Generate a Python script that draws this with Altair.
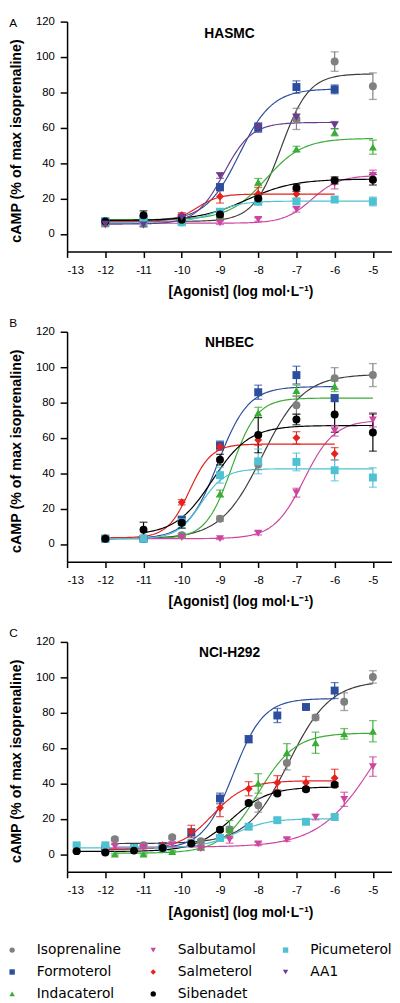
import numpy as np
import pandas as pd
import altair as alt

# ---------------- categories / style lookups ----------------
SERIES = ["Isoprenaline", "Formoterol", "Indacaterol", "Salbutamol",
          "Salmeterol", "Sibenadet", "Picumeterol", "AA1"]
# legend is filled row-wise in 3 columns
LEGEND_ORDER = ["Isoprenaline", "Salbutamol", "Picumeterol",
                "Formoterol", "Salmeterol", "AA1",
                "Indacaterol", "Sibenadet"]
MARKER_COLORS = {"Isoprenaline": "#808080", "Formoterol": "#2d4e9e",
                 "Indacaterol": "#3aad37", "Salbutamol": "#cc459f",
                 "Salmeterol": "#e5221e", "Sibenadet": "#000000",
                 "Picumeterol": "#4ec2d2", "AA1": "#6a3b8f"}
CURVE_COLORS = {"Isoprenaline": "#3c3c3c", "Formoterol": "#2d4e9e",
                "Indacaterol": "#3aad37", "Salbutamol": "#cc459f",
                "Salmeterol": "#e5221e", "Sibenadet": "#000000",
                "Picumeterol": "#4ec2d2", "AA1": "#6a3b8f"}
SHAPES = {"Isoprenaline": "circle", "Formoterol": "square",
          "Indacaterol": "triangle-up", "Salbutamol": "triangle-down",
          "Salmeterol": "diamond", "Sibenadet": "circle",
          "Picumeterol": "square", "AA1": "triangle-down"}
SIZES = {"Isoprenaline": 65, "Formoterol": 58, "Indacaterol": 65,
         "Salbutamol": 65, "Salmeterol": 50, "Sibenadet": 85,
         "Picumeterol": 60, "AA1": 70}

X_TICKS = [-13, -12, -11, -10, -9, -8, -7, -6, -5]
Y_TICKS = [0, 20, 40, 60, 80, 100, 120]

# ---------------- Panel A: HASMC ----------------
XA8 = [-12, -11, -10, -9, -8, -7, -6, -5]
XA7 = [-12, -11, -10, -9, -8, -7, -6]
XA6 = [-12, -11, -10, -9, -8, -7]
A_ISO = [7, 7.5, 6.5, 9, 20, 65, 97.4, 83.5]
A_ISO_E = [1, 1, 1, 1.5, 2, 6, 5.5, 7.5]
A_FORM = [7, 8, 9, 26.4, 60.2, 83, 81.7]
A_FORM_E = [1.5, 2, 1.5, 2, 2.5, 3.5, 2.5]
A_INDA = [6, 6, 7, 10, 29.3, 48, 57.4, 49]
A_INDA_E = [1, 1, 1, 1.5, 2, 1.5, 2, 4]
A_SALB = [5, 5, 6.5, 6.3, 8.1, 13.8, 28.4, 33]
A_SALB_E = [1, 1, 1, 1, 1, 1.5, 3, 3]
A_SALM = [6, 7, 10.5, 21.1, 22.7, 22.5]
A_SALM_E = [1, 1, 1.5, 3.7, 3.5, 2.5]
A_SIBE = [7, 10.5, 8, 11, 20, 26, 30.2, 30.6]
A_SIBE_E = [1, 2.5, 1, 1.5, 2, 2, 2, 3]
A_PICU = [7, 7, 6.5, 12.5, 18.1, 18.3, 19.4, 18.3]
A_PICU_E = [1, 1, 1, 1.5, 1.5, 1.5, 1.5, 2.5]
A_AA1 = [5.5, 5, 9.5, 32.9, 60, 65.8, 61.5]
A_AA1_E = [1, 1, 1, 1.5, 2.5, 2, 2]
# fit: bottom, top, logEC50, hill slope, first x, last x
FIT_A = {"Isoprenaline": [7, 90.5, -7.4, 1.2, -12, -5],
         "Formoterol": [7.5, 82, -8.5, 1.0, -12, -6],
         "Indacaterol": [8, 54, -7.8, 0.9, -12, -5],
         "Salbutamol": [6, 33, -6.6, 1.2, -12, -5],
         "Salmeterol": [7, 22.5, -9.6, 1.5, -12, -6],
         "Sibenadet": [7.5, 31, -8.3, 0.7, -12, -5],
         "Picumeterol": [6.5, 18.5, -9.1, 1.2, -12, -5],
         "AA1": [5.5, 63, -8.9, 1.2, -12, -6]}

# ---------------- Panel B: NHBEC ----------------
XB8 = [-12, -11, -10, -9, -8, -7, -6, -5]
XB7 = [-12, -11, -10, -9, -8, -7, -6]
B_ISO = [3, 3, 5, 14.3, 45, 78.4, 93.7, 95.5]
B_ISO_E = [0.5, 0.5, 1, 1.5, 3, 5, 6, 6.5]
B_FORM = [3, 3, 13.6, 55.7, 85.8, 95.5, 82.5]
B_FORM_E = [1, 1, 2, 2.5, 4, 5, 2]
B_INDA = [3, 3, 5, 28.5, 74.3, 86.8, 89.2]
B_INDA_E = [0.5, 0.5, 1, 2, 3, 3, 3]
B_SALB = [3, 3, 3.7, 3, 6.1, 29, 64, 70.2]
B_SALB_E = [0.5, 0.5, 0.5, 0.5, 1, 2.5, 3, 4]
B_SALM = [3.5, 3.5, 23.6, 55, 58.8, 60, 51]
B_SALM_E = [0.5, 0.5, 1.5, 2, 3, 3.5, 3.5]
B_SIBE = [3, 8, 12, 47.7, 61.6, 70.4, 73.2, 63]
B_SIBE_E = [0.5, 4.3, 3, 3, 10, 3, 10, 10.5]
B_PICU = [3, 3, 12.3, 38.9, 46.7, 46.4, 41.7, 37.6]
B_PICU_E = [0.5, 0.5, 3.5, 4.5, 7, 5, 6, 5.5]
FIT_B = {"Isoprenaline": [3, 96, -7.9, 0.8, -12, -5],
         "Formoterol": [3, 89, -9.05, 1.1, -12, -6],
         "Indacaterol": [3, 82.5, -8.7, 1.3, -12, -5],
         "Salbutamol": [3, 70, -6.8, 1.1, -12, -5],
         "Salmeterol": [3.5, 56.5, -9.8, 1.5, -12, -6],
         "Sibenadet": [5, 67, -9.2, 0.9, -11, -5],
         "Picumeterol": [3, 42.5, -9.5, 1.4, -12, -5]}

# ---------------- Panel C: NCI-H292 ----------------
XC_1 = [-11.75, -11, -10.25, -9.5, -8.75, -8, -7.25, -6.5, -5.75, -5]
XC_2 = [-12, -11.25, -10.5, -9.75, -9, -8.25, -7.5, -6.75, -6]
XC_3 = [-12.75, -12, -11.25, -10.5, -9.75, -9, -8.25, -7.5, -6.75, -6]
C_ISO = [8.4, 5, 9.5, 7.3, 14, 27.7, 51.6, 77.3, 86.2, 100.2]
C_ISO_E = [1, 1, 1, 1, 1.5, 4, 4, 1.5, 5, 3.5]
C_INDA = [0, 0, 1.5, 4, 14, 40, 57.5, 63, 68, 69.5]
C_INDA_E = [0.5, 0.5, 0.5, 1, 5, 5.5, 5, 6, 3, 6]
C_SALB = [4.4, 3.9, 5.4, 3.1, 8.2, 5.8, 8.2, 20.9, 31, 49.5]
C_SALB_E = [1, 1, 1, 1, 2, 1, 1, 1.5, 4, 5.5]
C_FORM = [3, 3.5, 4.5, 12.3, 31.5, 65, 78.4, 83.2, 92.5]
C_FORM_E = [0.5, 0.5, 0.5, 2, 3, 2, 4, 1, 4.5]
C_SALM = [2.5, 3, 5, 12.8, 26.2, 37, 40.4, 40.4, 43]
C_SALM_E = [0.5, 0.5, 1, 3.5, 5, 4, 4, 3.5, 5]
C_SIBE = [1.7, 0.9, 2, 3.5, 6, 13.8, 28.9, 34.3, 36.7, 39.3]
C_SIBE_E = [0.5, 0.5, 0.5, 0.5, 1, 1, 1, 1, 1, 1]
C_PICU = [5, 5, 3.5, 3.5, 6.3, 9.1, 15.5, 19.2, 18.3, 21]
C_PICU_E = [0.5, 0.5, 0.5, 0.5, 1, 1, 1, 1, 1, 1]
FIT_C = {"Isoprenaline": [6, 98, -7.2, 0.8, -11.75, -5],
         "Formoterol": [3, 88, -8.65, 1.1, -12, -6],
         "Indacaterol": [0.5, 68.5, -8.0, 0.9, -11.75, -5],
         "Salbutamol": [4, 100, -4.95, 0.6, -11.75, -5],
         "Salmeterol": [2.5, 41.5, -9.2, 1.0, -12, -6],
         "Sibenadet": [1.5, 38, -8.7, 0.9, -12.75, -6],
         "Picumeterol": [3.5, 20, -8.6, 1.0, -12.75, -6]}

POINT_SETS = [
    ("A", "Isoprenaline", XA8, A_ISO, A_ISO_E),
    ("A", "Formoterol", XA7, A_FORM, A_FORM_E),
    ("A", "Indacaterol", XA8, A_INDA, A_INDA_E),
    ("A", "Salbutamol", XA8, A_SALB, A_SALB_E),
    ("A", "Salmeterol", XA6, A_SALM, A_SALM_E),
    ("A", "Picumeterol", XA8, A_PICU, A_PICU_E),
    ("A", "Sibenadet", XA8, A_SIBE, A_SIBE_E),
    ("A", "AA1", XA7, A_AA1, A_AA1_E),
    ("B", "Isoprenaline", XB8, B_ISO, B_ISO_E),
    ("B", "Formoterol", XB7, B_FORM, B_FORM_E),
    ("B", "Indacaterol", XB7, B_INDA, B_INDA_E),
    ("B", "Salbutamol", XB8, B_SALB, B_SALB_E),
    ("B", "Salmeterol", XB7, B_SALM, B_SALM_E),
    ("B", "Picumeterol", XB8, B_PICU, B_PICU_E),
    ("B", "Sibenadet", XB8, B_SIBE, B_SIBE_E),
    ("C", "Isoprenaline", XC_1, C_ISO, C_ISO_E),
    ("C", "Indacaterol", XC_1, C_INDA, C_INDA_E),
    ("C", "Salbutamol", XC_1, C_SALB, C_SALB_E),
    ("C", "Formoterol", XC_2, C_FORM, C_FORM_E),
    ("C", "Salmeterol", XC_2, C_SALM, C_SALM_E),
    ("C", "Picumeterol", XC_3, C_PICU, C_PICU_E),
    ("C", "Sibenadet", XC_3, C_SIBE, C_SIBE_E),
]
FITS = {"A": FIT_A, "B": FIT_B, "C": FIT_C}

rows = []
for panel, s, xs, ys, es in POINT_SETS:
    for x, y, e in zip(xs, ys, es):
        rows.append({"panel": panel, "series": s, "x": x, "y": y,
                     "lo": y - e, "hi": y + e})
points = pd.DataFrame(rows)

crow = []
for panel, fits in FITS.items():
    for s, (bot, top, ec50, hill, x0, x1) in fits.items():
        for x in np.linspace(x0, x1, 141):
            crow.append({"panel": panel, "series": s, "x": float(x),
                         "y": float(bot + (top - bot) / (1 + 10 ** ((ec50 - x) * hill)))})
curves = pd.DataFrame(crow)

legend_df = pd.DataFrame({"series": LEGEND_ORDER,
                          "col": [i % 3 for i in range(len(LEGEND_ORDER))],
                          "row": [i // 3 for i in range(len(LEGEND_ORDER))]})

FONT = "Liberation Sans"
W, H = 330, 233.5

xscale = alt.Scale(domain=[-13, -4.5], nice=False, zero=False)
yscale = alt.Scale(domain=[-10, 120], nice=False, zero=False)
xaxis = alt.Axis(values=X_TICKS, title="[Agonist] (log mol·L⁻¹)",
                 labelExpr="datum.value < 0 ? '-' + abs(datum.value) : '' + datum.value",
                 titleX=176, titleY=45, titleAlign="center", titleBaseline="alphabetic",
                 titleFontSize=14, titleFontWeight="bold", labelFontSize=11.5,
                 tickSize=6, labelPadding=7, grid=False)
yaxis = alt.Axis(values=Y_TICKS, title="cAMP (% of max isoprenaline)",
                 titleX=-51, titleY=H / 2 + 4, titleAngle=270, titleAlign="center",
                 titleBaseline="middle", titleFontSize=14.5, titleFontWeight="bold",
                 labelFontSize=11.5, tickSize=7, labelPadding=6, grid=False)

color = alt.Color("series:N", legend=None,
                  scale=alt.Scale(domain=LEGEND_ORDER,
                                  range=[MARKER_COLORS[s] for s in LEGEND_ORDER]))
shape = alt.Shape("series:N", legend=None,
                  scale=alt.Scale(domain=LEGEND_ORDER,
                                  range=[SHAPES[s] for s in LEGEND_ORDER]))
size = alt.Size("series:N", legend=None,
                scale=alt.Scale(domain=LEGEND_ORDER,
                                range=[SIZES[s] for s in LEGEND_ORDER]))
stroke = alt.Stroke("series:N", legend=None,
                    scale=alt.Scale(domain=LEGEND_ORDER,
                                    range=[CURVE_COLORS[s] for s in LEGEND_ORDER]))


def make_panel(key, title, letter, title_y, letter_y):
    pts = points[points.panel == key]
    cur = curves[curves.panel == key]
    X = alt.X("x:Q", scale=xscale, axis=xaxis)
    Y = alt.Y("y:Q", scale=yscale, axis=yaxis)
    Ylo = alt.Y("lo:Q", scale=yscale, axis=yaxis)
    Yhi = alt.Y("hi:Q", scale=yscale, axis=yaxis)
    line = alt.Chart(cur).mark_line(strokeWidth=1.2).encode(x=X, y=Y, stroke=stroke)
    rule = alt.Chart(pts).mark_rule(strokeWidth=1.2).encode(x=X, y=Ylo, y2="hi:Q", color=color)
    cap_lo = alt.Chart(pts).mark_tick(orient="horizontal", size=8, thickness=1.3).encode(
        x=X, y=Ylo, color=color)
    cap_hi = alt.Chart(pts).mark_tick(orient="horizontal", size=8, thickness=1.3).encode(
        x=X, y=Yhi, color=color)
    dots = alt.Chart(pts).mark_point(filled=True, opacity=1).encode(
        x=X, y=Y, color=color, shape=shape, size=size)
    ttl = alt.Chart(pd.DataFrame({"t": [title]})).mark_text(
        font=FONT, fontSize=14, fontWeight="bold", align="center",
        baseline="alphabetic", color="black").encode(
        text="t:N", x=alt.value(W / 2), y=alt.value(title_y))
    let = alt.Chart(pd.DataFrame({"t": [letter]})).mark_text(
        font=FONT, fontSize=12, align="left", baseline="top", color="black").encode(
        text="t:N", x=alt.value(-58.8), y=alt.value(letter_y))
    return alt.layer(line, rule, cap_lo, cap_hi, dots, ttl, let).properties(width=W, height=H)


pA = make_panel("A", "HASMC", "A", 17, -4)
pB = make_panel("B", "NHBEC", "B", 15.5, -14)
pC = make_panel("C", "NCI-H292", "C", 15.5, -14)

# legend drawn as its own small panel (3 columns, filled row-wise)
LX = alt.X("col:Q", scale=alt.Scale(domain=[0, 1, 2], range=[-55.8, 87.5, 221.9]), axis=None)
LY = alt.Y("row:Q", scale=alt.Scale(domain=[0, 2], range=[13, 57.5]), axis=None)
leg_sym = alt.Chart(legend_df).mark_point(filled=True, opacity=1, size=30).encode(
    x=LX, y=LY, color=color, shape=shape)
leg_txt = alt.Chart(legend_df).mark_text(
    align="left", baseline="middle", dx=25, font="DejaVu Sans", fontSize=14,
    color="black").encode(x=LX, y=LY, text="series:N")
pLeg = alt.layer(leg_sym, leg_txt).properties(width=W, height=64)

chart = alt.vconcat(pA, pB, pC, pLeg, spacing=18).resolve_scale(
    color="shared", shape="shared", size="shared", stroke="shared"
).properties(padding=0).configure_view(stroke=None).configure_axis(
    labelFont=FONT, titleFont=FONT, labelColor="black", titleColor="black",
    domainColor="black", tickColor="black", domainWidth=1.5, tickWidth=1.5
)

chart.save("out.html", embed_options={"renderer": "svg", "actions": False})
